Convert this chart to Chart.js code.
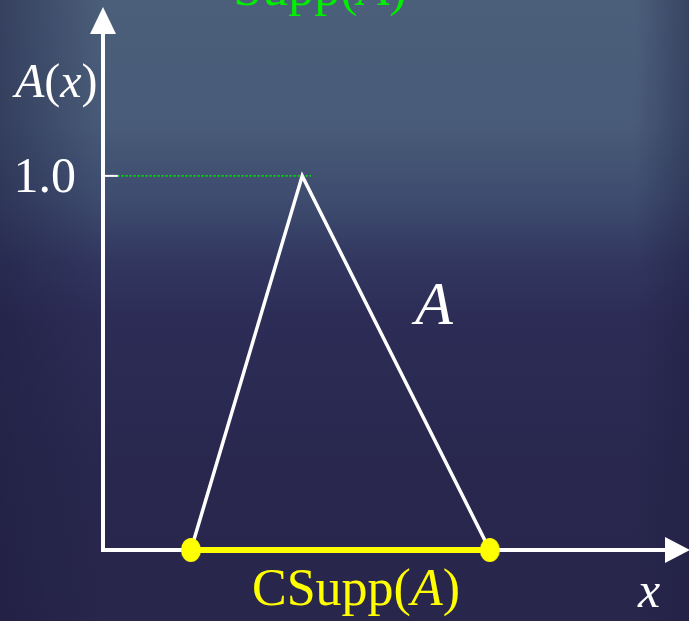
<!DOCTYPE html>
<html>
<head>
<meta charset="utf-8">
<script src="https://cdn.jsdelivr.net/npm/chart.js@4/dist/chart.umd.min.js"></script>
<style>
  html, body { margin: 0; padding: 0; background: #28264b; overflow: hidden; }
  #wrap { width: 689px; height: 621px; position: relative; }
  canvas { display: block; }
</style>
</head>
<body>
<div id="wrap"><canvas id="c" width="689" height="621"></canvas></div>
<script>
// Triangular membership function A(x)
const membershipX = [1.5, 3.4, 6.6];
const membershipY = [0, 1.0, 0];
// Closed support of A on the x axis
const supportX = [1.5, 6.6];
const supportY = [0, 0];
// Dotted guide at the height of A
const heightLineX = [0.25, 3.55];
const heightLineY = [1.0, 1.0];
// Y tick
const yTickValues = [1.0];
const yTickLabels = ['1.0'];

const toPoints = (xs, ys) => xs.map((x, i) => ({ x: x, y: ys[i] }));

const SERIF = '"Liberation Serif", "DejaVu Serif", serif';

// Slightly tall oval marker for the support end points
function ovalMarker(w, h, color) {
  const c = document.createElement('canvas');
  c.width = w; c.height = h;
  const g = c.getContext('2d');
  g.fillStyle = color;
  g.beginPath();
  g.ellipse(w / 2, h / 2, w / 2, h / 2, 0, 0, Math.PI * 2);
  g.fill();
  return c;
}
const supportDot = ovalMarker(20, 24, '#ffff00');

// Draws a run of text pieces, some italic, starting at x
function richText(ctx, parts, x, y, size, color, align) {
  ctx.save();
  ctx.fillStyle = color;
  ctx.textBaseline = 'alphabetic';
  ctx.textAlign = 'left';
  const fontOf = p => (p.i ? 'italic ' : '') + size + 'px ' + SERIF;
  let total = 0;
  parts.forEach(p => { ctx.font = fontOf(p); total += ctx.measureText(p.t).width; });
  let cx = align === 'center' ? x - total / 2 : (align === 'right' ? x - total : x);
  parts.forEach(p => {
    ctx.font = fontOf(p);
    ctx.fillText(p.t, cx, y);
    cx += ctx.measureText(p.t).width;
  });
  ctx.restore();
}

const backdrop = {
  id: 'backdrop',
  beforeDraw(chart) {
    const ctx = chart.ctx, W = chart.width, H = chart.height;
    ctx.save();
    const g = ctx.createLinearGradient(0, 0, 0, H);
    g.addColorStop(0.00, '#4b5f7a');
    g.addColorStop(0.20, '#485b78');
    g.addColorStop(0.32, '#3e4c6f');
    g.addColorStop(0.42, '#323760');
    g.addColorStop(0.52, '#2c2c56');
    g.addColorStop(0.75, '#29274e');
    g.addColorStop(1.00, '#28264b');
    ctx.fillStyle = g;
    ctx.fillRect(0, 0, W, H);
    // darker side bands
    const l = ctx.createLinearGradient(0, 0, 105, 0);
    l.addColorStop(0, 'rgba(28,28,62,0.45)');
    l.addColorStop(1, 'rgba(28,28,62,0)');
    ctx.fillStyle = l;
    ctx.fillRect(0, 0, 105, H);
    const r = ctx.createLinearGradient(635, 0, W, 0);
    r.addColorStop(0, 'rgba(28,28,62,0)');
    r.addColorStop(1, 'rgba(28,28,62,0.4)');
    ctx.fillStyle = r;
    ctx.fillRect(635, 0, W - 635, H);
    ctx.restore();
  }
};

const arrowAxes = {
  id: 'arrowAxes',
  beforeDatasetsDraw(chart) {
    const ctx = chart.ctx;
    const xs = chart.scales.x, ys = chart.scales.y;
    const ox = xs.getPixelForValue(0);
    const oy = ys.getPixelForValue(0);
    ctx.save();
    ctx.strokeStyle = '#ffffff';
    ctx.fillStyle = '#ffffff';
    ctx.lineWidth = 4;
    ctx.lineCap = 'butt';
    // vertical axis
    ctx.beginPath();
    ctx.moveTo(ox, oy + 2);
    ctx.lineTo(ox, 32);
    ctx.stroke();
    ctx.beginPath();
    ctx.moveTo(ox, 7);
    ctx.lineTo(ox - 13, 34);
    ctx.lineTo(ox + 13, 34);
    ctx.closePath();
    ctx.fill();
    // horizontal axis
    ctx.beginPath();
    ctx.moveTo(ox - 2, oy);
    ctx.lineTo(667, oy);
    ctx.stroke();
    ctx.beginPath();
    ctx.moveTo(690, oy);
    ctx.lineTo(665, oy - 13);
    ctx.lineTo(665, oy + 13);
    ctx.closePath();
    ctx.fill();
    // y ticks and labels
    ctx.lineWidth = 2;
    yTickValues.forEach((v, i) => {
      const py = ys.getPixelForValue(v);
      ctx.beginPath();
      ctx.moveTo(ox, py);
      ctx.lineTo(ox + 15, py);
      ctx.stroke();
      richText(ctx, [{ t: yTickLabels[i] }], 76, py + 16, 50, '#ffffff', 'right');
    });
    ctx.restore();
  },
  afterDatasetsDraw(chart) {
    const ctx = chart.ctx;
    richText(ctx, [{ t: 'Supp(' }, { t: 'A', i: true }, { t: ')' }], 320, 5, 52, '#00ee00', 'center');
    richText(ctx, [{ t: 'A', i: true }, { t: '(' }, { t: 'x', i: true }, { t: ')' }], 15, 97, 48, '#ffffff', 'left');
    richText(ctx, [{ t: 'A', i: true }], 415, 324, 62, '#ffffff', 'left');
    richText(ctx, [{ t: 'CSupp(' }, { t: 'A', i: true }, { t: ')' }], 356, 605, 52, '#ffff00', 'center');
    richText(ctx, [{ t: 'x', i: true }], 638, 607, 50, '#ffffff', 'left');
  }
};

new Chart(document.getElementById('c'), {
  type: 'scatter',
  data: {
    datasets: [
      {
        label: 'height',
        data: toPoints(heightLineX, heightLineY),
        showLine: true,
        borderColor: '#00f000',
        borderWidth: 1.5,
        borderDash: [2, 2],
        pointRadius: 0,
        clip: false,
        order: 3
      },
      {
        label: 'A',
        data: toPoints(membershipX, membershipY),
        showLine: true,
        borderColor: '#ffffff',
        borderWidth: 3.5,
        borderJoinStyle: 'miter',
        pointRadius: 0,
        clip: false,
        order: 2
      },
      {
        label: 'CSupp(A)',
        data: toPoints(supportX, supportY),
        showLine: true,
        borderColor: '#ffff00',
        borderWidth: 6,
        pointStyle: supportDot,
        pointRadius: 10,
        clip: false,
        order: 1
      }
    ]
  },
  options: {
    responsive: false,
    devicePixelRatio: 1,
    animation: false,
    layout: { autoPadding: false, padding: { left: 103, right: 0, top: 15, bottom: 71 } },
    scales: {
      x: { type: 'linear', min: 0, max: 10, display: false },
      y: { type: 'linear', min: 0, max: 1.43, display: false }
    },
    plugins: {
      legend: { display: false },
      tooltip: { enabled: false }
    }
  },
  plugins: [backdrop, arrowAxes]
});
</script>
</body>
</html>
